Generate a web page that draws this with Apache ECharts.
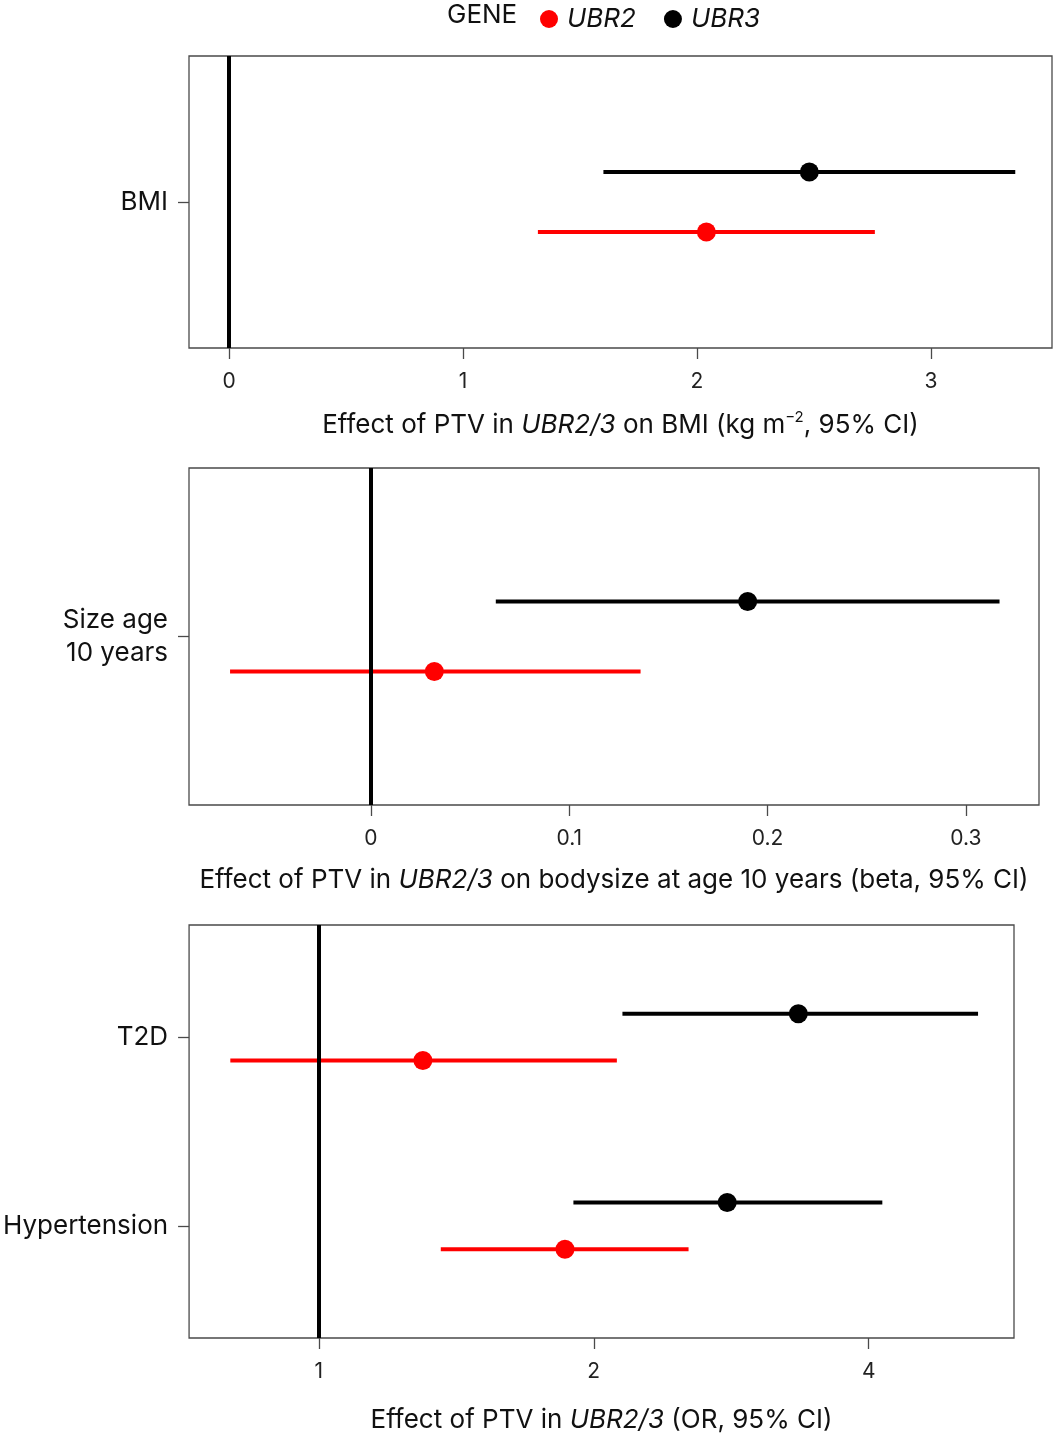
<!DOCTYPE html>
<html lang="en">
<head>
    <meta charset="UTF-8">
    <title>UBR2/3 PTV effects</title>
    <style>
        html, body {
            margin: 0;
            padding: 0;
            background: #ffffff;
        }

        #chart {
            width: 1055px;
            height: 1434px;
        }
    </style>
</head>
<body>
<div id="chart"></div>
<script src="https://cdn.jsdelivr.net/npm/echarts@6/dist/echarts.min.js"></script>
<script>
    /* data: [estimate, lower, upper] */
    var bmiCats = ['BMI'];
    var bmiUbr2 = [[2.04, 1.32, 2.76]];
    var bmiUbr3 = [[2.48, 1.60, 3.36]];
    var bmiTicks = [0, 1, 2, 3];

    var sizeCats = ['Size age\n10 years'];
    var sizeUbr2 = [[0.032, -0.071, 0.136]];
    var sizeUbr3 = [[0.190, 0.063, 0.317]];
    var sizeTicks = [0, 0.1, 0.2, 0.3];

    var orCats = ['T2D', 'Hypertension'];
    var orUbr2 = [[1.30, 0.80, 2.12], [1.86, 1.36, 2.54]];
    var orUbr3 = [[3.35, 2.15, 5.27], [2.80, 1.90, 4.14]];
    var orTicks = [1, 2, 4];

    var FONT = 'Inter, "Noto Sans", sans-serif';
    var FS = 26;
    var RED = '#ff0000';
    var BLACK = '#000000';

    /*面板布局*/
    var panels = [
        {
            cats: bmiCats, ubr2: bmiUbr2, ubr3: bmiUbr3, ticks: bmiTicks, ref: 0,
            type: 'value', xMin: -0.171, xMax: 3.517,
            top: 56, height: 292, right: 3, yPad: 0.5, off: 0.103, nameGap: 62,
            name: '{n|Effect of PTV in }{i|UBR2/3}{n| on BMI (kg m}{s|−2}{n|, 95% CI)}'
        },
        {
            cats: sizeCats, ubr2: sizeUbr2, ubr3: sizeUbr3, ticks: sizeTicks, ref: 0,
            type: 'value', xMin: -0.0917, xMax: 0.3369,
            top: 468, height: 337, right: 16, yPad: 0.5, off: 0.104, nameGap: 60,
            name: '{n|Effect of PTV in }{i|UBR2/3}{n| on bodysize at age 10 years (beta, 95% CI)}'
        },
        {
            cats: orCats, ubr2: orUbr2, ubr3: orUbr3, ticks: orTicks, ref: 1,
            type: 'log', xMin: 0.721, xMax: 5.77,
            top: 925, height: 416, right: 41, yPad: 0.595, off: 0.124, nameGap: 67,
            name: '{n|Effect of PTV in }{i|UBR2/3}{n| (OR, 95% CI)}'
        }
    ];

    var nameRich = {
        n: {fontFamily: FONT, fontSize: FS, color: '#111', lineHeight: 30},
        i: {fontFamily: FONT, fontSize: FS, color: '#111', fontStyle: 'italic', lineHeight: 30},
        s: {fontFamily: FONT, fontSize: 15, color: '#111', verticalAlign: 'top', lineHeight: 16, padding: [0, 0, 14, 0]}
    };

    function renderCI(params, api) {
        var y = api.value(3);
        var p = api.coord([api.value(0), y]);
        var a = api.coord([api.value(1), y]);
        var b = api.coord([api.value(2), y]);
        var color = api.visual('color');
        return {
            type: 'group',
            children: [
                {type: 'line', shape: {x1: a[0], y1: a[1], x2: b[0], y2: b[1]}, style: {stroke: color, lineWidth: 4}},
                {type: 'circle', shape: {cx: p[0], cy: p[1], r: 9.5}, style: {fill: color}}
            ]
        };
    }

    function toRows(rows, shift) {
        return rows.map(function (r, i) {
            return [r[0], r[1], r[2], i + 1 + shift];
        });
    }

    var grids = [], xAxes = [], yAxes = [], series = [];
    panels.forEach(function (pn, k) {
        grids.push({
            left: 189, right: pn.right, top: pn.top, height: pn.height,
            show: true, borderColor: '#4a4a4a', borderWidth: 1.3, backgroundColor: 'transparent'
        });
        var yVals = pn.cats.map(function (c, i) { return i + 1; });
        xAxes.push({
            gridIndex: k, type: pn.type, logBase: 2, min: pn.xMin, max: pn.xMax,
            axisLine: {show: false, onZero: false},
            splitLine: {show: false},
            axisTick: {show: true, length: 11, customValues: pn.ticks, lineStyle: {color: '#4a4a4a', width: 1.3}},
            axisLabel: {
                customValues: pn.ticks, margin: 23, fontFamily: FONT, fontSize: 21, color: '#222',
                formatter: function (v) { return String(Math.round(v * 1000) / 1000); }
            },
            name: pn.name, nameLocation: 'middle', nameGap: pn.nameGap,
            nameTextStyle: {rich: nameRich}
        });
        yAxes.push({
            gridIndex: k, type: 'value', inverse: true,
            min: 1 - pn.yPad, max: pn.cats.length + pn.yPad,
            axisLine: {show: false, onZero: false},
            splitLine: {show: false},
            axisTick: {show: true, length: 11, customValues: yVals, lineStyle: {color: '#4a4a4a', width: 1.3}},
            axisLabel: {
                customValues: yVals, margin: 21, fontFamily: FONT, fontSize: FS, color: '#111',
                lineHeight: 33, align: 'right',
                formatter: function (v) { return pn.cats[Math.round(v) - 1] || ''; }
            }
        });
        series.push({
            name: 'UBR3', type: 'custom', xAxisIndex: k, yAxisIndex: k,
            itemStyle: {color: BLACK}, renderItem: renderCI, silent: true,
            encode: {x: [0, 1, 2], y: 3},
            data: toRows(pn.ubr3, -pn.off)
        });
        series.push({
            name: 'UBR2', type: 'custom', xAxisIndex: k, yAxisIndex: k,
            itemStyle: {color: RED}, renderItem: renderCI, silent: true,
            encode: {x: [0, 1, 2], y: 3},
            data: toRows(pn.ubr2, pn.off),
            markLine: {
                silent: true, symbol: 'none', z: 10,
                label: {show: false},
                lineStyle: {color: BLACK, width: 4, type: 'solid'},
                data: [{xAxis: pn.ref}]
            }
        });
    });

    var chart = echarts.init(document.getElementById('chart'), null, {renderer: 'canvas'});
    chart.setOption({
        animation: false,
        backgroundColor: '#ffffff',
        legend: {
            left: 535, top: 1, itemWidth: 18, itemHeight: 18, itemGap: 28,
            icon: 'circle', selectedMode: false,
            data: [
                {name: 'UBR2', itemStyle: {color: RED}},
                {name: 'UBR3', itemStyle: {color: BLACK}}
            ],
            textStyle: {fontFamily: FONT, fontSize: FS, fontStyle: 'italic', color: '#111', padding: [0, 0, 0, 4]}
        },
        graphic: [{
            type: 'text', left: 447, top: 2,
            style: {text: 'GENE', font: FS + 'px ' + FONT, fill: '#111'}
        }],
        grid: grids,
        xAxis: xAxes,
        yAxis: yAxes,
        series: series
    });
</script>
</body>
</html>
